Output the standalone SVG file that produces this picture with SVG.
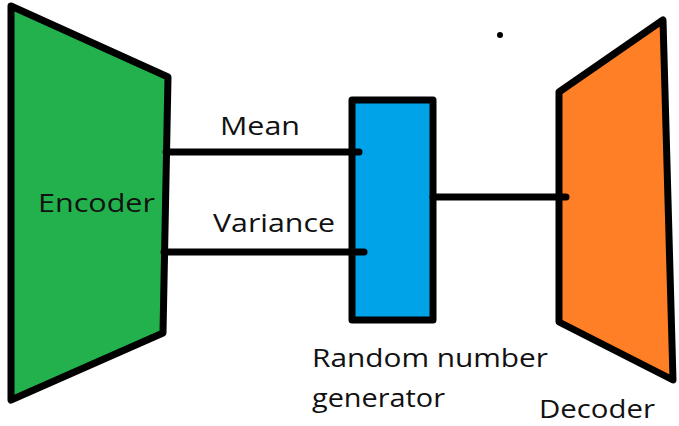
<svg xmlns="http://www.w3.org/2000/svg" width="679" height="426" viewBox="0 0 679 426">
<style>
.shape{stroke:#000;stroke-width:7;stroke-linejoin:round;stroke-linecap:round}
.conn{stroke:#000;stroke-width:7;stroke-linecap:round;fill:none}
text{font-family:"Open Sans","Liberation Sans",sans-serif;font-size:25px;fill:#111}
</style>
<rect width="679" height="426" fill="#fff"/>
<g id="encoder">
<polygon class="shape" fill="#22b14c" points="11,6 168,77 163,333 11,400"/>
<text x="38" y="212" textLength="117" lengthAdjust="spacingAndGlyphs">Encoder</text>
</g>
<g id="mean-label"><text x="220" y="135" textLength="80" lengthAdjust="spacingAndGlyphs">Mean</text></g>
<g id="variance-label"><text x="213" y="232" textLength="122" lengthAdjust="spacingAndGlyphs">Variance</text></g>
<g id="rng">
<rect class="shape" fill="#00a2e8" x="352" y="100" width="81" height="220"/>
<text x="312" y="367" textLength="236" lengthAdjust="spacingAndGlyphs">Random number</text>
<text x="312" y="407" textLength="133" lengthAdjust="spacingAndGlyphs">generator</text>
</g>
<g id="decoder">
<polygon class="shape" fill="#ff7f27" points="559,92 663,20 673,380 559,322"/>
<text x="539" y="418" textLength="116" lengthAdjust="spacingAndGlyphs">Decoder</text>
</g>
<circle cx="500" cy="35" r="3" fill="#000"/>
<g id="connectors">
<line class="conn" x1="166" y1="152" x2="359" y2="152"/>
<line class="conn" x1="164" y1="252" x2="364" y2="252"/>
<line class="conn" x1="433" y1="197" x2="566" y2="197"/>
</g>
</svg>
